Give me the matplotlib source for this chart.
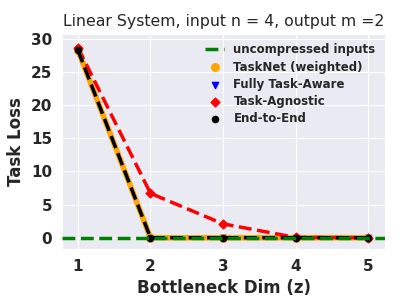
import matplotlib
matplotlib.use("Agg")
import matplotlib.pyplot as plt
import seaborn as sns

sns.set_style("darkgrid")
plt.rcParams['font.family'] = ['DejaVu Sans']

z = [1, 2, 3, 4, 5]
tasknet = [28.3, 0.0, 0.0, 0.0, 0.0]
fully_aware = [28.3, 0.0, 0.0, 0.0, 0.0]
agnostic = [28.7, 6.7, 2.1, 0.05, 0.0]
end_to_end = [28.3, 0.0, 0.0, 0.0, 0.0]
baseline = 0.0

fig, ax = plt.subplots(figsize=(4.07, 3.05), dpi=100)

ax.axhline(baseline, color='green', ls='--', lw=2.5, label='uncompressed inputs', zorder=5)
ax.plot(z, tasknet, color='orange', lw=4, zorder=2)
ax.scatter(z, tasknet, color='orange', s=30, label='TaskNet (weighted)', zorder=3)
ax.plot(z, fully_aware, color='blue', lw=2, zorder=1)
ax.scatter(z, fully_aware, color='blue', marker='v', s=20, label='Fully Task-Aware', zorder=1)
ax.plot(z, agnostic, color='red', ls='--', lw=2.5, zorder=2)
ax.scatter(z, agnostic, color='red', marker='D', s=20, label='Task-Agnostic', zorder=3)
ax.plot(z, end_to_end, color='black', ls='--', lw=2.5, zorder=4)
ax.scatter(z, end_to_end, color='black', s=20, label='End-to-End', zorder=4)

ax.set_xlim(0.78, 5.234)
ax.set_ylim(-1.7, 30.75)

ax.set_title('Linear System, input n = 4, output m =2', fontsize=11.3)
ax.set_xlabel('Bottleneck Dim (z)', fontsize=12, fontweight='bold')
ax.set_ylabel('Task Loss', fontsize=12, fontweight='bold')
ax.set_xticks(z)
ax.set_yticks([0, 5, 10, 15, 20, 25, 30])
for lab in ax.get_xticklabels() + ax.get_yticklabels():
    lab.set_fontweight('bold')
    lab.set_fontsize(11)

leg = ax.legend(loc='upper right', frameon=False, prop={'weight': 'bold', 'size': 8.5},
                labelspacing=0.35, handlelength=1.6, borderaxespad=0.4)

fig.subplots_adjust(left=0.1523, right=0.946, top=0.8885, bottom=0.1836)
fig.savefig('out.png', dpi=100)
